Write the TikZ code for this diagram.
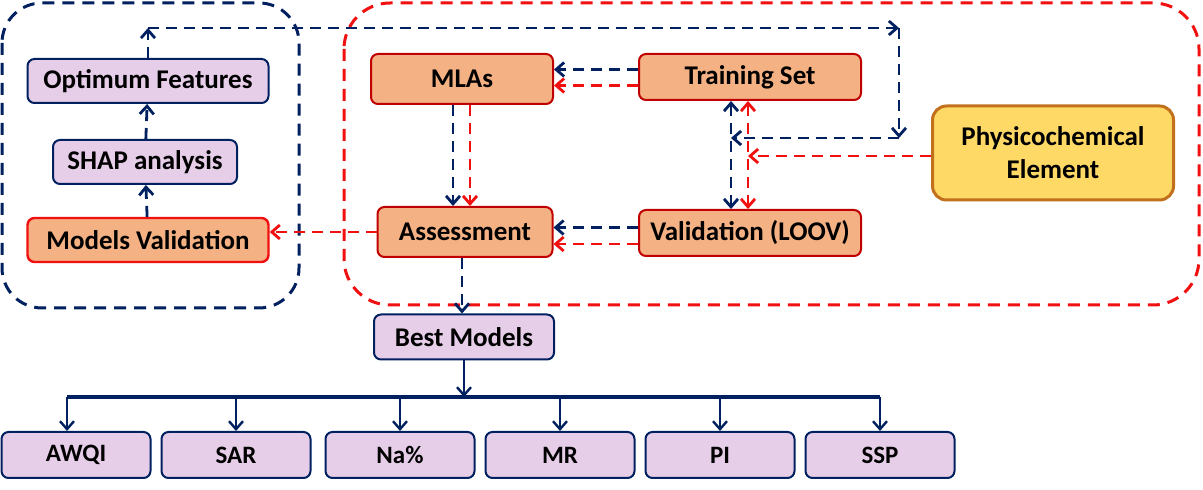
\documentclass[tikz,border=0pt]{standalone}
\usepackage{fontspec}
\setmainfont{Carlito}
\usepackage{xcolor}
\usepackage{tikz}
\usetikzlibrary{arrows.meta}
\definecolor{navy}{HTML}{002060}
\definecolor{hot}{HTML}{F01010}
\definecolor{darkred}{HTML}{C00000}
\definecolor{peach}{HTML}{F4B183}
\definecolor{lilac}{HTML}{E6CDE8}
\definecolor{sun}{HTML}{FFD966}
\definecolor{rust}{HTML}{C2701C}
\tikzset{
  featbox/.style={rectangle, draw=navy, fill=lilac, rounded corners=3.5pt, line width=1pt,
                  minimum height=22pt, inner sep=2pt, font=\fontsize{13.5}{16}\selectfont\bfseries},
  modbox/.style={rectangle, draw=darkred, fill=peach, rounded corners=3.5pt, line width=1pt,
                 minimum height=23pt, inner sep=2pt, font=\fontsize{13.5}{16}\selectfont\bfseries},
  physbox/.style={rectangle, draw=rust, fill=sun, rounded corners=7pt, line width=1.5pt,
                  minimum width=120.5pt, minimum height=47pt, align=center,
                  font=\fontsize{13.5}{16.5}\selectfont\bfseries},
  outbox/.style={featbox, minimum width=74.5pt, minimum height=23pt, font=\fontsize{12.5}{14}\selectfont\bfseries},
  darr/.style={-{Straight Barb[length=4pt,width=7pt]}, line width=1.4pt, draw=navy, dash pattern=on 5.5pt off 3.5pt},
  rarr/.style={-{Straight Barb[length=4pt,width=7pt]}, line width=1.4pt, draw=hot, dash pattern=on 5.5pt off 3.5pt},
  sarr/.style={-{Straight Barb[length=4pt,width=7pt]}, line width=1.2pt, draw=navy},
  frame/.style={line width=1.5pt, dash pattern=on 6pt off 4pt},
}
\begin{document}
\begin{tikzpicture}[x=0.5pt,y=-0.5pt]
  \useasboundingbox (0,0) rectangle (1203,490);
  % group frames
  \draw[frame, navy, rounded corners=20pt] (2,3) rectangle (299,308);
  \draw[frame, hot, rounded corners=23pt] (344,3) rectangle (1199,305);

  % left column
  \node[featbox, minimum width=120.5pt] (opt) at (148,81) {Optimum Features};
  \node[featbox, minimum width=92pt] (shap) at (145,162) {SHAP analysis};
  \node[modbox, draw=hot, line width=1.2pt, minimum width=120.5pt, minimum height=22pt] (mval) at (148,240) {Models Validation};

  % modelling block
  \node[modbox, minimum width=91pt, minimum height=25pt] (mla) at (462,79) {MLAs};
  \node[modbox, minimum width=111pt] (train) at (750,77) {Training Set};
  \node[modbox, minimum width=87.5pt, minimum height=25pt] (assess) at (465,232) {Assessment};
  \node[modbox, minimum width=111pt] (valid) at (750,233) {Validation (LOOV)};
  \node[physbox] (phys) at (1053,153) {Physicochemical\\Element};

  % outputs
  \node[featbox, minimum width=90pt, minimum height=22.5pt] (best) at (464,337) {Best Models};
  \foreach \n/\x/\t in {awqi/76/AWQI, sar/236/SAR, nap/400/Na\%, mr/560/MR, pi/720/PI, ssp/880/SSP}
    {\node[outbox] (\n) at (\x,455) {\t};}

  % feedback loop
  \coordinate (tl) at (148,28);
  \coordinate (tr) at (899,28);
  \coordinate (br) at (899,138);
  \coordinate (bx) at ([xshift=-9.5pt]train.south);
  \coordinate (rx) at ([xshift=-1pt]train.south);
  \draw[darr] (mval) -- (shap);
  \draw[darr] (shap) -- (opt);
  \draw[darr] (opt.north) -- (tl);
  \draw[darr] (tl) -- (tr);
  \draw[darr] (tr) -- (br);
  \draw[darr] (br) -- (bx |- br);

  \draw[darr] ([yshift=3.75pt]train.west) -- ([yshift=3.75pt]train.west -| mla.east);
  \draw[rarr] ([yshift=-4.25pt]train.west) -- ([yshift=-4.25pt]train.west -| mla.east);
  \draw[darr] ([yshift=2.75pt]valid.west) -- ([yshift=2.75pt]valid.west -| assess.east);
  \draw[rarr] ([yshift=-5.5pt]valid.west) -- ([yshift=-5.5pt]valid.west -| assess.east);
  \draw[darr] ([xshift=-4.5pt]mla.south) -- ([xshift=-4.5pt]mla.south |- assess.north);
  \draw[rarr] ([xshift=4pt]mla.south) -- ([xshift=4pt]mla.south |- assess.north);
  \draw[darr, {Straight Barb[length=4pt,width=7pt]}-{Straight Barb[length=4pt,width=7pt]}] (bx) -- (bx |- valid.north);
  \draw[rarr, {Straight Barb[length=4pt,width=7pt]}-{Straight Barb[length=4pt,width=7pt]}] (rx) -- (rx |- valid.north);
  \draw[rarr] (phys.west |- 0,156) -- (rx |- 0,156);
  \draw[rarr] (assess.west) -- (assess.west -| mval.east);

  % to the indices
  \coordinate (bar) at (464,397);
  \draw[darr] ([xshift=-1.5pt]assess.south) -- ([xshift=-1.5pt]assess.south |- best.north);
  \draw[sarr] (best.south) -- (bar);
  \draw[navy, line width=1.6pt] ([xshift=-4.5pt]awqi.north |- bar) -- (ssp.north |- bar);
  \draw[sarr] ([xshift=-4.5pt]awqi.north |- bar) -- ([xshift=-4.5pt]awqi.north);
  \foreach \n in {sar,nap,mr,pi,ssp}
    {\draw[sarr] (\n.north |- bar) -- (\n.north);}
\end{tikzpicture}
\end{document}
